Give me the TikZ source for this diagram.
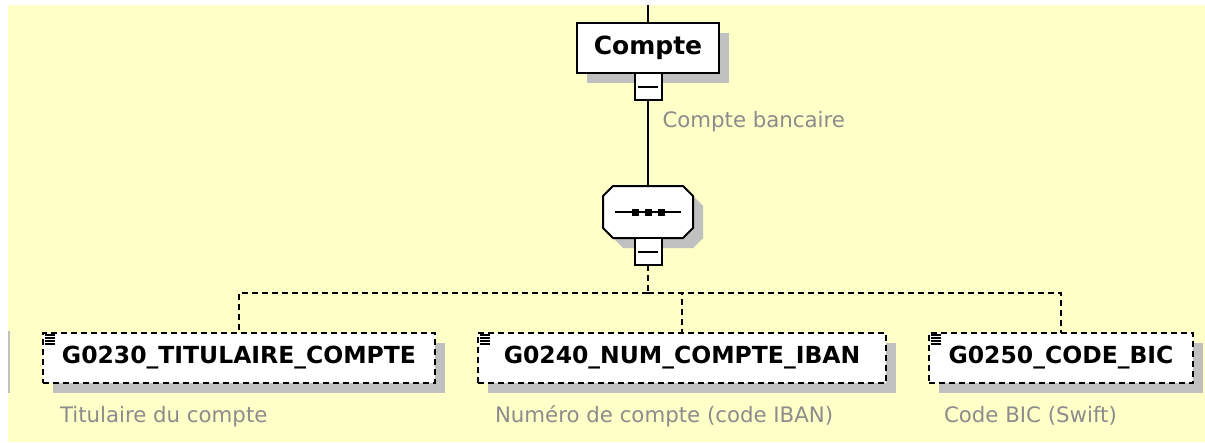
\documentclass[tikz,border=0pt]{standalone}
\usepackage{fontspec}
\setmainfont{DejaVu Sans}
\usepackage{xcolor}
\usetikzlibrary{positioning,shadows}
\definecolor{paper}{RGB}{255,255,200}
\definecolor{shadowgray}{RGB}{192,192,192}
\definecolor{notegray}{RGB}{140,140,140}

\begin{document}
\begin{tikzpicture}[
    x=1pt, y=-1pt,
    line width=2pt,
    every node/.style={outer sep=0pt},
    boxshadow/.style={drop shadow={shadow xshift=10pt, shadow yshift=-10pt, fill=shadowgray, opacity=1}},
    element/.style={rectangle, draw, fill=white, boxshadow, minimum height=50pt, inner sep=0pt},
    leaf/.style={element, dash pattern=on 6pt off 4pt, font=\fontsize{23.5}{28}\selectfont\bfseries},
    toggle/.style={rectangle, draw, fill=white, minimum size=27pt, inner sep=0pt,
        path picture={\draw[line width=2pt] ([xshift=-10pt]path picture bounding box.center) -- ([xshift=10pt]path picture bounding box.center);}},
    sequence/.style={rectangle, minimum width=90pt, minimum height=52pt, inner sep=0pt},
    note/.style={text=notegray, font=\fontsize{21.3}{25}\selectfont, inner sep=0pt, anchor=base west},
    link/.style={draw, line width=2pt},
    optional/.style={link, dash pattern=on 6pt off 4pt},
    node distance=43pt
]
% Background
\fill[white] (0,0) rectangle (1205,442);
\fill[paper] (8,5) rectangle (1205,442);
\fill[shadowgray] (8,331) rectangle (10,393);

% Parent element
\node[element, minimum width=142pt, font=\fontsize{25}{30}\selectfont\bfseries] (compte) at (648,48) {Compte};
\node[toggle, below=0pt of compte] (compteTog) {};
\node[note] (compteNote) at ([xshift=1pt,yshift=-27pt]compteTog.south east) {Compte bancaire};

% Sequence (octagon drawn round the node)
\node[sequence, below=86pt of compteTog] (seq) {};
\fill[shadowgray] ([shift={(20,10)}]seq.north west) -- ([shift={(0,10)}]seq.north east)
  -- ([shift={(10,20)}]seq.north east) -- ([shift={(10,0)}]seq.south east)
  -- ([shift={(0,10)}]seq.south east) -- ([shift={(20,10)}]seq.south west)
  -- ([shift={(10,0)}]seq.south west) -- ([shift={(10,20)}]seq.north west) -- cycle;
\filldraw[fill=white] ([xshift=10pt]seq.north west) -- ([xshift=-10pt]seq.north east)
  -- ([yshift=-10pt]seq.north east) -- ([yshift=10pt]seq.south east)
  -- ([xshift=-10pt]seq.south east) -- ([xshift=10pt]seq.south west)
  -- ([yshift=10pt]seq.south west) -- ([yshift=-10pt]seq.north west) -- cycle;
\draw ([xshift=-33pt]seq.center) -- ([xshift=33pt]seq.center);
\foreach \dx in {-13,0,13}
  \fill ([xshift=\dx pt]seq.center) +(-3.5,-3.5) rectangle +(3.5,3.5);
\node[toggle, below=0pt of seq] (seqTog) {};

% Children
\node[leaf, minimum width=392pt] (titulaire) at (239,358) {G0230\_TITULAIRE\_COMPTE};
\node[leaf, minimum width=408pt, right=of titulaire] (iban) {G0240\_NUM\_COMPTE\_IBAN};
\node[leaf, minimum width=264pt, right=of iban] (bic) {G0250\_CODE\_BIC};
\foreach \el in {titulaire,iban,bic}
  \foreach \k in {0,...,3}
    \draw[line width=1.6pt] ([xshift=2pt,yshift=-2pt-2.9pt*\k]\el.north west) -- ++(10,0);

\node[note] (titulaireNote) at ([xshift=17pt,yshift=-39pt]titulaire.south west) {Titulaire du compte};
\node[note] (ibanNote) at ([xshift=17pt,yshift=-39pt]iban.south west) {Numéro de compte (code IBAN)};
\node[note] (bicNote) at ([xshift=15pt,yshift=-39pt]bic.south west) {Code BIC (Swift)};

% Links
\coordinate (entry) at (648,5);
\coordinate[below=28pt of seqTog] (split);
\draw[link] (entry) -- (compte);
\draw[link] (compteTog) -- (seq);
\draw[optional] (seqTog) -- (split);
\foreach \el in {titulaire,iban,bic}
  \draw[optional] (split) -| (\el.north);

\end{tikzpicture}
\end{document}
